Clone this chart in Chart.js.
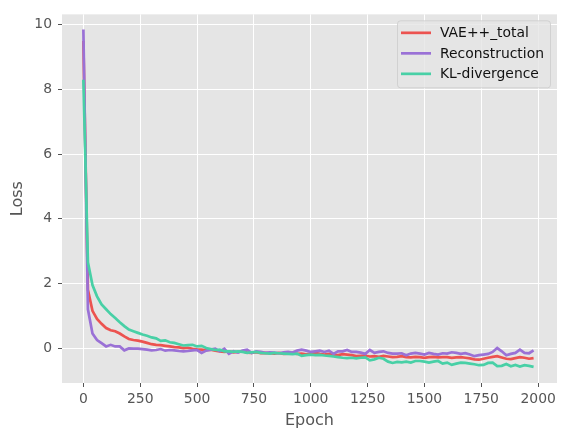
<!DOCTYPE html>
<html>
<head>
<meta charset="utf-8">
<script src="https://cdn.jsdelivr.net/npm/chart.js@4"></script>
<style>
  html, body { margin: 0; padding: 0; background: #fff; }
  #wrap { width: 570px; height: 440px; }
</style>
</head>
<body>
<div id="wrap"><canvas id="render" width="570" height="440"></canvas></div>
<script>
const epochs = [0, 20, 40, 60, 80, 100, 120, 140, 160, 180,
  200, 220, 240, 260, 280, 300, 320, 340, 360, 380,
  400, 420, 440, 460, 480, 500, 520, 540, 560, 580,
  600, 620, 640, 660, 680, 700, 720, 740, 760, 780,
  800, 820, 840, 860, 880, 900, 920, 940, 960, 980,
  1000, 1020, 1040, 1060, 1080, 1100, 1120, 1140, 1160, 1180,
  1200, 1220, 1240, 1260, 1280, 1300, 1320, 1340, 1360, 1380,
  1400, 1420, 1440, 1460, 1480, 1500, 1520, 1540, 1560, 1580,
  1600, 1620, 1640, 1660, 1680, 1700, 1720, 1740, 1760, 1780,
  1800, 1820, 1840, 1860, 1880, 1900, 1920, 1940, 1960, 1980];

const totalLoss = [9.5, 1.8, 1.15, 0.9, 0.75, 0.62, 0.55, 0.52, 0.45, 0.36,
  0.28, 0.25, 0.23, 0.2, 0.16, 0.12, 0.1, 0.09, 0.07, 0.05,
  0.03, 0.02, 0.0, 0.01, -0.02, -0.04, -0.05, -0.06, -0.05, -0.08,
  -0.1, -0.12, -0.1, -0.13, -0.12, -0.1, -0.14, -0.15, -0.13, -0.16,
  -0.15, -0.16, -0.17, -0.15, -0.18, -0.17, -0.16, -0.18, -0.17, -0.19,
  -0.17, -0.15, -0.18, -0.2, -0.18, -0.21, -0.22, -0.19, -0.2, -0.22,
  -0.25, -0.24, -0.23, -0.26, -0.25, -0.27, -0.24, -0.26, -0.28, -0.27,
  -0.25, -0.28, -0.29, -0.27, -0.28, -0.3, -0.28, -0.27, -0.29, -0.28,
  -0.28, -0.3, -0.29, -0.28, -0.3, -0.32, -0.35, -0.36, -0.33, -0.3,
  -0.27, -0.25, -0.29, -0.33, -0.34, -0.31, -0.28, -0.3, -0.33, -0.31];

const reconLoss = [9.85, 1.2, 0.45, 0.25, 0.15, 0.05, 0.1, 0.05, 0.05, -0.07,
  -0.01, -0.02, -0.02, -0.03, -0.05, -0.07, -0.06, -0.03, -0.08, -0.06,
  -0.07, -0.09, -0.1, -0.09, -0.07, -0.06, -0.15, -0.08, -0.05, -0.02,
  -0.1, -0.02, -0.18, -0.1, -0.14, -0.08, -0.05, -0.15, -0.1, -0.12,
  -0.15, -0.13, -0.14, -0.16, -0.13, -0.12, -0.14, -0.08, -0.05, -0.08,
  -0.12, -0.1, -0.08, -0.12, -0.08, -0.18, -0.1, -0.1, -0.06, -0.12,
  -0.12, -0.14, -0.18, -0.06, -0.15, -0.12, -0.1, -0.15, -0.17, -0.17,
  -0.16, -0.22, -0.17, -0.15, -0.17, -0.2, -0.15, -0.18, -0.2, -0.16,
  -0.17, -0.13, -0.15, -0.18, -0.16, -0.2, -0.25, -0.22, -0.2, -0.18,
  -0.12, 0.0, -0.1, -0.22, -0.18, -0.15, -0.05, -0.15, -0.16, -0.07];

const klLoss = [8.3, 2.65, 1.95, 1.6, 1.35, 1.2, 1.05, 0.93, 0.8, 0.68,
  0.57, 0.52, 0.47, 0.42, 0.38, 0.33, 0.3, 0.22, 0.24, 0.18,
  0.16, 0.12, 0.08, 0.09, 0.1, 0.05, 0.07, 0.0, -0.03, -0.06,
  -0.05, -0.1, -0.1, -0.12, -0.1, -0.12, -0.15, -0.13, -0.12, -0.15,
  -0.16, -0.17, -0.15, -0.16, -0.17, -0.18, -0.19, -0.17, -0.24, -0.22,
  -0.2, -0.22, -0.21, -0.23, -0.24, -0.26, -0.28, -0.3, -0.31, -0.3,
  -0.32, -0.3, -0.29, -0.38, -0.35, -0.3, -0.33, -0.42, -0.46, -0.43,
  -0.44, -0.42, -0.45, -0.4, -0.4, -0.42, -0.45, -0.42, -0.4, -0.48,
  -0.45, -0.52, -0.48, -0.45, -0.46, -0.48, -0.5, -0.53, -0.52, -0.46,
  -0.45, -0.56, -0.55, -0.49, -0.56, -0.52, -0.57, -0.53, -0.55, -0.58];

const xTicks = [0, 250, 500, 750, 1000, 1250, 1500, 1750, 2000];
const yTicks = [0, 2, 4, 6, 8, 10];

const seriesNames = ['VAE++_total', 'Reconstruction', 'KL-divergence'];
const seriesColors = ['#EC5350', '#9A71D6', '#48D0A6'];

function pts(ys) {
  return ys.map((y, i) => ({ x: epochs[i], y: y }));
}

const FONT = "'DejaVu Sans', sans-serif";

// grey panel behind the plot, like ggplot style
const panelBg = {
  id: 'panelBg',
  beforeDraw: chart => {
    const { ctx, chartArea: a } = chart;
    ctx.save();
    ctx.fillStyle = '#E5E5E5';
    ctx.fillRect(a.left, a.top, a.right - a.left, a.bottom - a.top);
    ctx.restore();
  }
};

// legend box inside upper right corner
const boxLegend = {
  id: 'boxLegend',
  afterDraw: chart => {
    const { ctx, chartArea: a } = chart;
    const x0 = a.right - 160, y0 = a.top + 6, w = 153, h = 67;
    ctx.save();
    ctx.globalAlpha = 0.8;
    ctx.fillStyle = '#E5E5E5';
    ctx.strokeStyle = '#CCCCCC';
    ctx.lineWidth = 1;
    ctx.beginPath();
    ctx.roundRect(x0 + 0.5, y0 + 0.5, w, h, 3);
    ctx.fill();
    ctx.stroke();
    ctx.globalAlpha = 1;
    ctx.font = '13.9px ' + FONT;
    ctx.textBaseline = 'middle';
    chart.data.datasets.forEach((ds, i) => {
      const y = y0 + 12.5 + i * 20.5;
      ctx.strokeStyle = ds.borderColor;
      ctx.lineWidth = 2.7;
      ctx.beginPath();
      ctx.moveTo(x0 + 4, y);
      ctx.lineTo(x0 + 34, y);
      ctx.stroke();
      ctx.fillStyle = '#111';
      ctx.fillText(ds.label, x0 + 43, y + 1);
    });
    ctx.restore();
  }
};

const ctx = document.getElementById('render');
const chart = new Chart(ctx, {
  type: 'line',
  data: {
    datasets: [
      // higher order is drawn first, so KL ends up on top like the original plot
      { label: seriesNames[0], data: pts(totalLoss), borderColor: seriesColors[0], order: 3 },
      { label: seriesNames[1], data: pts(reconLoss), borderColor: seriesColors[1], order: 2 },
      { label: seriesNames[2], data: pts(klLoss), borderColor: seriesColors[2], order: 1 }
    ]
  },
  options: {
    responsive: false,
    animation: false,
    devicePixelRatio: 1,
    layout: { padding: { top: 14, right: 13, left: 0, bottom: 0 } },
    elements: {
      point: { radius: 0 },
      line: { borderWidth: 2.7, tension: 0 }
    },
    plugins: {
      legend: { display: false },
      tooltip: { enabled: false }
    },
    scales: {
      x: {
        type: 'linear',
        min: -94,
        max: 2083,
        afterBuildTicks: s => { s.ticks = xTicks.map(v => ({ value: v })); },
        afterFit: s => { s.height = 57; },
        border: { display: false },
        grid: { color: '#FFFFFF', lineWidth: 1, tickColor: '#555555', tickLength: 4 },
        ticks: { color: '#555555', font: { family: FONT, size: 13.9 }, padding: 4, maxRotation: 0,
          callback: v => String(v) },
        title: { display: true, text: 'Epoch', color: '#555555', font: { family: FONT, size: 16 },
          padding: { top: 0, bottom: 10 } }
      },
      y: {
        min: -1.08,
        max: 10.32,
        afterBuildTicks: s => { s.ticks = yTicks.map(v => ({ value: v })); },
        afterFit: s => { s.width = 62; },
        border: { display: false },
        grid: { color: '#FFFFFF', lineWidth: 1, tickColor: '#555555', tickLength: 4 },
        ticks: { color: '#555555', font: { family: FONT, size: 13.9 }, padding: 6,
          callback: v => String(v) },
        title: { display: true, text: 'Loss', color: '#555555', font: { family: FONT, size: 16 },
          padding: { top: 8, bottom: 0 } }
      }
    }
  },
  plugins: [panelBg, boxLegend]
});
</script>
</body>
</html>
